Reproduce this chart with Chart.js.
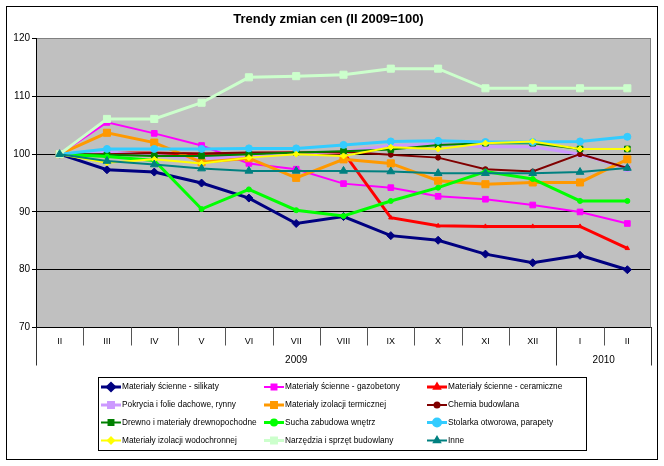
<!DOCTYPE html>
<html lang="pl">
<head>
<meta charset="utf-8">
<title>Trendy zmian cen</title>
<script src="https://cdn.jsdelivr.net/npm/chart.js@4.4.1/dist/chart.umd.min.js"></script>
<style>
  html, body { margin: 0; padding: 0; background: #fff; }
  #wykres { display: block; }
</style>
</head>
<body>
<canvas id="wykres" width="664" height="466"></canvas>
<script>
/* Trendy zmian cen (II 2009 = 100): 12 grup materiałów, II 2009 - II 2010 */

const MIESIACE = ['II', 'III', 'IV', 'V', 'VI', 'VII', 'VIII', 'IX', 'X', 'XI', 'XII', 'I', 'II'];
const LATA = ['2009', '2010'];
const LATA_OD = [0, 11];
const LATA_DO = [10, 12];
const Y_TICKI = [70, 80, 90, 100, 110, 120];

const silikaty    = [100, 97.3, 96.9, 95.0, 92.4, 88.0, 89.2, 85.9, 85.1, 82.7, 81.2, 82.5, 80.0];
const gazobetony  = [100, 105.5, 103.6, 101.5, 98.4, 97.4, 94.9, 94.2, 92.7, 92.2, 91.2, 90.0, 88.0];
const ceramiczne  = [100, 100.2, 100.2, 100.0, 100.1, 100.2, 100.3, 89.0, 87.6, 87.5, 87.5, 87.5, 83.7];
const pokrycia    = [100, 100.4, 99.8, 99.3, 99.5, 100.2, 100.4, 101.5, 101.7, 101.3, 101.3, 100.0, 97.5];
const termiczne   = [100, 103.7, 102.0, 98.6, 99.3, 95.9, 99.1, 98.4, 95.4, 94.8, 95.1, 95.1, 99.1];
const chemia      = [100, 100.0, 100.2, 100.1, 100.3, 100.3, 100.4, 99.9, 99.4, 97.4, 97.0, 100.0, 97.6];
const drewno      = [100, 99.9, 99.7, 99.7, 100.0, 100.3, 100.5, 100.8, 101.6, 101.9, 101.9, 100.9, 100.9];
const sucha       = [100, 99.6, 98.9, 90.5, 93.9, 90.3, 89.3, 91.9, 94.2, 97.0, 95.7, 91.9, 91.9];
const stolarka    = [100, 100.9, 100.9, 100.9, 101.0, 101.0, 101.6, 102.2, 102.3, 102.1, 102.1, 102.2, 103.0];
const wodochronne = [100, 98.5, 99.1, 98.4, 99.4, 100.0, 99.7, 101.2, 100.9, 101.9, 102.2, 100.9, 100.9];
const narzedzia   = [100, 106.1, 106.1, 108.9, 113.3, 113.5, 113.75, 114.8, 114.8, 111.4, 111.4, 111.4, 111.4];
const inne        = [100, 98.8, 98.2, 97.5, 97.1, 97.1, 97.1, 97.0, 96.7, 96.7, 96.7, 96.9, 97.6];

const SERIE = [
  { nazwa: 'Materiały ścienne - silikaty', dane: silikaty, kolor: '#000080', znak: 'rectRot', r: 4, gr: 3 },
  { nazwa: 'Materiały ścienne - gazobetony', dane: gazobetony, kolor: '#ff00ff', znak: 'rect', r: 4, gr: 2 },
  { nazwa: 'Materiały ścienne - ceramiczne', dane: ceramiczne, kolor: '#ff0000', znak: 'triangle', r: 2.5, gr: 3 },
  { nazwa: 'Pokrycia i folie dachowe, rynny', dane: pokrycia, kolor: '#cc99ff', znak: 'rect', r: 4, gr: 3 },
  { nazwa: 'Materiały izolacji termicznej', dane: termiczne, kolor: '#ff9900', znak: 'rect', r: 5, gr: 3 },
  { nazwa: 'Chemia budowlana', dane: chemia, kolor: '#800000', znak: 'circle', r: 2.5, gr: 2 },
  { nazwa: 'Drewno i materiały drewnopochodne', dane: drewno, kolor: '#008000', znak: 'rect', r: 4, gr: 2 },
  { nazwa: 'Sucha zabudowa wnętrz', dane: sucha, kolor: '#00ff00', znak: 'circle', r: 2.5, gr: 3 },
  { nazwa: 'Stolarka otworowa, parapety', dane: stolarka, kolor: '#33ccff', znak: 'circle', r: 3.5, gr: 3 },
  { nazwa: 'Materiały izolacji wodochronnej', dane: wodochronne, kolor: '#ffff00', znak: 'rectRot', r: 3, gr: 2 },
  { nazwa: 'Narzędzia i sprzęt budowlany', dane: narzedzia, kolor: '#ccffcc', znak: 'rect', r: 5, gr: 3 },
  { nazwa: 'Inne', dane: inne, kolor: '#008080', znak: 'triangle', r: 4.5, gr: 2 }
];

/* ---------- tło, podziałka kategorii, lata, legenda, ramka ---------- */

function kreska(ctx, x1, y1, x2, y2) {
  ctx.beginPath();
  ctx.moveTo(x1, y1);
  ctx.lineTo(x2, y2);
  ctx.stroke();
}

const dekoracje = {
  id: 'dekoracje',
  beforeDraw(chart) {
    const { ctx, chartArea: a } = chart;
    ctx.save();
    ctx.fillStyle = '#fff';
    ctx.fillRect(0, 0, chart.width, chart.height);
    ctx.fillStyle = '#c0c0c0';
    ctx.fillRect(a.left, a.top, a.right - a.left, a.bottom - a.top);
    ctx.restore();
  },
  afterDraw(chart) {
    const { ctx, chartArea: a, scales: { x } } = chart;
    const w = (a.right - a.left) / MIESIACE.length;
    ctx.save();
    ctx.lineWidth = 1;

    ctx.strokeStyle = '#808080';
    kreska(ctx, a.right - 0.5, a.top, a.right - 0.5, a.bottom);

    // pionowe kreski pod osią
    for (let i = 0; i <= MIESIACE.length; i++) {
      const px = Math.round(a.left + i * w) + 0.5;
      const dlugi = i === 0 || i === MIESIACE.length || LATA_OD.includes(i);
      ctx.strokeStyle = dlugi ? '#333' : '#555';
      kreska(ctx, px, a.bottom, px, a.bottom + (dlugi ? 38 : 18));
    }

    ctx.fillStyle = '#000';
    ctx.font = '10px Arial';
    ctx.textAlign = 'center';
    ctx.textBaseline = 'middle';
    LATA.forEach((rok, i) => {
      const cx = (x.getPixelForValue(LATA_OD[i]) + x.getPixelForValue(LATA_DO[i])) / 2;
      ctx.fillText(rok, cx, a.bottom + 33);
    });

    // legenda
    const kol = [101, 264, 427];
    const wiersz = [387, 405, 422.5, 440.5];
    ctx.strokeStyle = '#000';
    ctx.strokeRect(98.5, 377.5, 488, 73);
    ctx.font = '8.3px Arial';
    ctx.textAlign = 'left';
    chart.data.datasets.forEach((ds, i) => {
      const lx = kol[i % 3], ly = wiersz[Math.floor(i / 3)];
      ctx.strokeStyle = ds.borderColor;
      ctx.lineWidth = ds.borderWidth;
      kreska(ctx, lx, ly, lx + 20, ly);
      ctx.fillStyle = ds.backgroundColor;
      ctx.strokeStyle = ds.borderColor;
      Chart.helpers.drawPoint(ctx, { pointStyle: ds.pointStyle, radius: Math.min(ds.pointRadius, 3.5), rotation: 0, borderWidth: 1 }, lx + 10, ly);
      ctx.fillStyle = '#000';
      ctx.fillText(ds.label, lx + 21, ly);
    });

    ctx.lineWidth = 1;
    ctx.strokeStyle = '#000';
    ctx.strokeRect(6.5, 6.5, 651, 453);
    ctx.restore();
  }
};

/* ---------- wykres ---------- */

new Chart(document.getElementById('wykres'), {
  type: 'line',
  data: {
    labels: MIESIACE,
    datasets: SERIE.map((s, i) => ({
      label: s.nazwa,
      data: s.dane,
      borderColor: s.kolor,
      backgroundColor: s.kolor,
      borderWidth: s.gr,
      pointStyle: s.znak,
      pointRadius: s.r,
      pointBorderWidth: 1,
      tension: 0,
      order: SERIE.length - i
    }))
  },
  options: {
    responsive: false,
    animation: false,
    devicePixelRatio: 1,
    layout: { padding: { left: 6, right: 13, top: 0, bottom: 0 } },
    plugins: {
      legend: { display: false },
      tooltip: { enabled: false },
      title: {
        display: true,
        text: 'Trendy zmian cen (II 2009=100)',
        color: '#000',
        font: { family: 'Arial', size: 13, weight: 'bold' },
        padding: { top: 12, bottom: 11 }
      }
    },
    scales: {
      x: {
        offset: true,
        grid: { display: false, drawTicks: false },
        border: { display: true, color: '#000' },
        ticks: { color: '#000', font: { family: 'Arial', size: 9 }, padding: 9, maxRotation: 0, autoSkip: false },
        afterFit(s) { s.height = 138.5; }
      },
      y: {
        min: Y_TICKI[0],
        max: Y_TICKI[Y_TICKI.length - 1],
        afterBuildTicks(s) { s.ticks = Y_TICKI.map(v => ({ value: v })); },
        ticks: { color: '#000', font: { family: 'Arial', size: 10 }, padding: 2 },
        grid: { color: c => c.tick && c.tick.value === 120 ? '#808080' : '#000', tickColor: '#000', tickLength: 4 },
        border: { color: '#000' },
        afterFit(s) { s.width = 30; }
      }
    }
  },
  plugins: [dekoracje]
});
</script>
</body>
</html>
